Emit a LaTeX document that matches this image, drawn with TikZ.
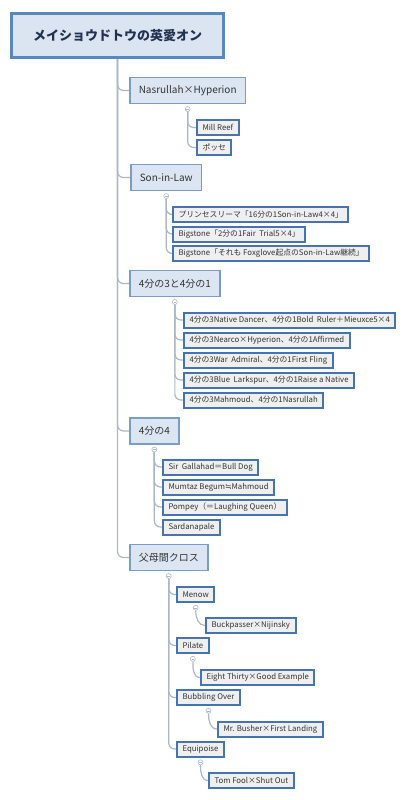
\documentclass[tikz,border=0pt]{standalone}
\usepackage{fontspec}
\setmainfont{Noto Sans CJK JP}
\newfontfamily\symfont{DejaVu Sans}
\usepackage{tikz}
\usetikzlibrary{positioning, backgrounds}
\definecolor{rootfill}{HTML}{DBE5F1}
\definecolor{rootline}{HTML}{5B87C0}
\definecolor{roottext}{HTML}{22314F}
\definecolor{topfill}{HTML}{DCE6F2}
\definecolor{topline}{HTML}{7B9BC8}
\definecolor{leaffill}{HTML}{EFEFEF}
\definecolor{leafline}{HTML}{4674B0}
\definecolor{linkgray}{HTML}{ABB7C6}
\definecolor{darktext}{HTML}{333333}
\tikzstyle{link} = [draw=linkgray, line width=1.2pt, rounded corners=6pt]

\begin{document}
\begin{tikzpicture}[
    x=1pt, y=-1pt,
    root/.style={rectangle, draw=rootline, line width=3pt, fill=rootfill, minimum width=212pt, minimum height=44pt, font=\fontsize{13}{15}\selectfont\bfseries, text=roottext},
    topic/.style={rectangle, draw=topline, line width=1.5pt, fill=topfill, minimum height=26pt, inner xsep=9pt, font=\fontsize{10}{12}\selectfont, text=darktext},
    leaf/.style={rectangle, draw=leafline, line width=2pt, fill=leaffill, minimum height=15pt, inner xsep=5.5pt, inner ysep=1pt, font=\fontsize{7.8}{9}\selectfont, text=darktext},
    fold/.style={circle, draw=linkgray, fill=white, line width=0.6pt, minimum size=5pt, inner sep=0pt,
        path picture={\draw[linkgray, line width=0.5pt] ([xshift=-1.3pt]path picture bounding box.center) -- ([xshift=1.3pt]path picture bounding box.center);}}
]
\useasboundingbox (0,0) rectangle (415,800);

% Nodes
\node (root) [root, anchor=north west] at (10,12) {メイショウドトウの英愛オン};

\node (nasrullah) [topic, anchor=west] at (129,90.5) {Nasrullah×Hyperion};
\node (nasrullah-f) [fold, below=2pt of nasrullah.south] {};
\node (millreef) [leaf, anchor=west] at (196,127.5) {Mill Reef};
\node (posse) [leaf, below=3pt of millreef.south west, anchor=north west] {ポッセ};

\node (soninlaw) [topic, anchor=west] at (130,177.5) {Son-in-Law};
\node (soninlaw-f) [fold, below=2pt of soninlaw.south] {};
\node (prince) [leaf, anchor=west] at (172,214.5) {プリンセスリーマ「16分の1Son-in-Law4×4」};
\node (bigstoneA) [leaf, below=2.5pt of prince.south west, anchor=north west] {Bigstone「2分の1Fair\ \ Trial5×4」};
\node (bigstoneB) [leaf, below=2.5pt of bigstoneA.south west, anchor=north west] {Bigstone「それも Foxglove起点のSon-in-Law継続」};

\node (quarter) [topic, anchor=west] at (129,283.5) {4分の3と4分の1};
\node (quarter-f) [fold, below=2pt of quarter.south] {};
\node (dancer) [leaf, anchor=west] at (183,320) {4分の3Native Dancer、4分の1Bold\ \ Ruler＋Mieuxce5×4};
\node (nearco) [leaf, below=3pt of dancer.south west, anchor=north west] {4分の3Nearco×Hyperion、4分の1Affirmed};
\node (admiral) [leaf, below=3pt of nearco.south west, anchor=north west] {4分の3War\ \ Admiral、4分の1First Fling};
\node (larkspur) [leaf, below=3pt of admiral.south west, anchor=north west] {4分の3Blue\ \ Larkspur、4分の1Raise a Native};
\node (mahmoud) [leaf, below=3pt of larkspur.south west, anchor=north west] {4分の3Mahmoud、4分の1Nasrullah};

\node (full) [topic, anchor=west] at (129,431) {4分の4};
\node (full-f) [fold, below=2pt of full.south] {};
\node (gallahad) [leaf, anchor=west] at (162,467) {Sir\ \ Gallahad＝Bull Dog};
\node (mumtaz) [leaf, below=3pt of gallahad.south west, anchor=north west] {Mumtaz Begum{\symfont ≒}Mahmoud};
\node (pompey) [leaf, below=3pt of mumtaz.south west, anchor=north west] {Pompey（＝Laughing Queen）};
\node (sardana) [leaf, below=3pt of pompey.south west, anchor=north west] {Sardanapale};

\node (cross) [topic, anchor=west] at (129,557.5) {父母間クロス};
\node (cross-f) [fold, below=2pt of cross.south] {};
\node (menow) [leaf, anchor=west] at (176,594.5) {Menow};
\node (menow-f) [fold, below=2pt of menow.south] {};
\node (buckpasser) [leaf, anchor=west] at (205,625.5) {Buckpasser×Nijinsky};
\node (pilate) [leaf, anchor=west] at (176,645.5) {Pilate};
\node (pilate-f) [fold, below=2pt of pilate.south] {};
\node (eight) [leaf, anchor=west] at (200,677.5) {Eight Thirty×Good Example};
\node (bubbling) [leaf, anchor=west] at (176,697.5) {Bubbling Over};
\node (bubbling-f) [fold, below=2pt of bubbling.south] {};
\node (busher) [leaf, anchor=west] at (217,729) {Mr. Busher×First Landing};
\node (equipoise) [leaf, anchor=west] at (176,749) {Equipoise};
\node (equipoise-f) [fold, below=2pt of equipoise.south] {};
\node (tomfool) [leaf, anchor=west] at (208,780.5) {Tom Fool×Shut Out};

% Edges
\begin{scope}[on background layer]
\foreach \t in {nasrullah, soninlaw, quarter, full, cross}
    \draw [link] (root.south) |- (\t.west);
\foreach \c in {millreef, posse}
    \draw [link] (nasrullah-f) |- (\c.west);
\foreach \c in {prince, bigstoneA, bigstoneB}
    \draw [link] (soninlaw-f) |- (\c.west);
\foreach \c in {dancer, nearco, admiral, larkspur, mahmoud}
    \draw [link] (quarter-f) |- (\c.west);
\foreach \c in {gallahad, mumtaz, pompey, sardana}
    \draw [link] (full-f) |- (\c.west);
\foreach \c in {menow, pilate, bubbling, equipoise}
    \draw [link] (cross-f) |- (\c.west);
\draw [link] (menow-f) to[out=-90, in=180] (buckpasser.west);
\draw [link] (pilate-f) to[out=-90, in=180] (eight.west);
\draw [link] (bubbling-f) to[out=-90, in=180] (busher.west);
\draw [link] (equipoise-f) to[out=-90, in=180] (tomfool.west);
\end{scope}

\end{tikzpicture}
\end{document}
